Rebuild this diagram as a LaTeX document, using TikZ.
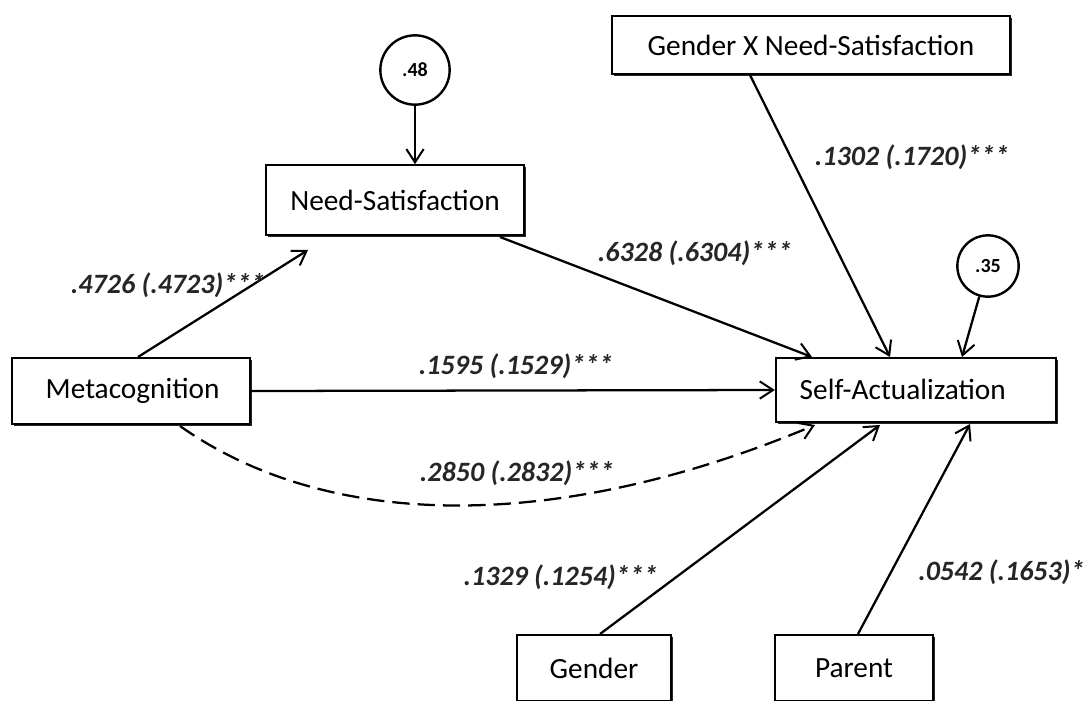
\documentclass[tikz,border=0pt]{standalone}
\usepackage{fontspec}
\setmainfont{Carlito}
\usetikzlibrary{arrows.meta,shadows}
\begin{document}
\begin{tikzpicture}[x=0.75pt,y=-0.75pt,
  box/.style={draw,fill=white,line width=1.7pt,inner sep=0pt,
    font=\fontsize{22}{26}\selectfont,
    drop shadow={shadow xshift=1.6pt,shadow yshift=-1.6pt,fill=black,opacity=0.85}},
  err/.style={draw,circle,line width=1.8pt,inner sep=0pt,font=\fontsize{15}{18}\selectfont\bfseries},
  path/.style={line width=1.7pt,-{Straight Barb[length=10pt,width=13pt,line width=1.5pt]}},
  coef/.style={font=\fontsize{21}{24}\selectfont\itshape\bfseries,text=black!85,inner sep=0pt}]
\useasboundingbox (0,0) rectangle (1088,700);
% variables
\node[box,minimum width=194pt,minimum height=52pt] (need) at (395,200) {Need-Satisfaction};
\node[box,minimum width=298pt,minimum height=44pt] (gxn) at (811,45) {Gender X Need-Satisfaction};
\node[box,minimum width=178pt,minimum height=50pt] (meta) at (131,391) {};
\node[anchor=west,font=\fontsize{22}{26}\selectfont] at (41,391) {Metacognition};
\node[box,minimum width=210pt,minimum height=48pt] (self) at (916,390) {};
\node[anchor=west,font=\fontsize{22}{26}\selectfont] at (795,389) {Self-Actualization};
\node[box,minimum width=115pt,minimum height=50pt] (gen) at (594,668) {Gender};
\node[box,minimum width=118pt,minimum height=50pt] (par) at (854,668) {Parent};
% disturbances
\node[err,minimum size=52pt] (e1) at (415,70) {.48};
\node[err,minimum size=46pt] (e2) at (988,266) {.35};
% points on the box edges
\coordinate (mtop) at (138,357);
\coordinate (nbl) at (308,250);
\coordinate (nbr) at (500,237);
\coordinate (stl) at (812,357);
\coordinate (stm) at (890,357);
\coordinate (str) at (962,357);
\coordinate (sbl) at (815,425);
\coordinate (sbm) at (880,425);
\coordinate (sbr) at (970,424);
\coordinate (mbot) at (180,426);
\coordinate (gtop) at (600,634);
\coordinate (ptop) at (858,634);
\coordinate (gxb) at (750,75);
% paths
\draw[path] (e1.south) -- (e1.south |- need.north);
\draw[path] (e2) -- (str);
\draw[path] (mtop) -- (nbl);
\draw[path] (nbr) -- (stl);
\draw[path] (meta.east) -- (self.west);
\draw[path] (gxb) -- (stm);
\draw[path,dash pattern=on 13pt off 6pt] (mbot) .. controls (330,532) and (560,532) .. (sbl);
\draw[path] (gtop) -- (sbm);
\draw[path] (ptop) -- (sbr);
% coefficients
\node[coef] at (168,285) {.4726 (.4723)***};
\node[coef] at (695,253) {.6328 (.6304)***};
\node[coef] at (912,157) {.1302 (.1720)***};
\node[coef] at (516,366) {.1595 (.1529)***};
\node[coef] at (517,473) {.2850 (.2832)***};
\node[coef,anchor=east] at (658,577) {.1329 (.1254)***};
\node[coef,anchor=west] at (918,572) {.0542 (.1653)*};
\end{tikzpicture}
\end{document}
